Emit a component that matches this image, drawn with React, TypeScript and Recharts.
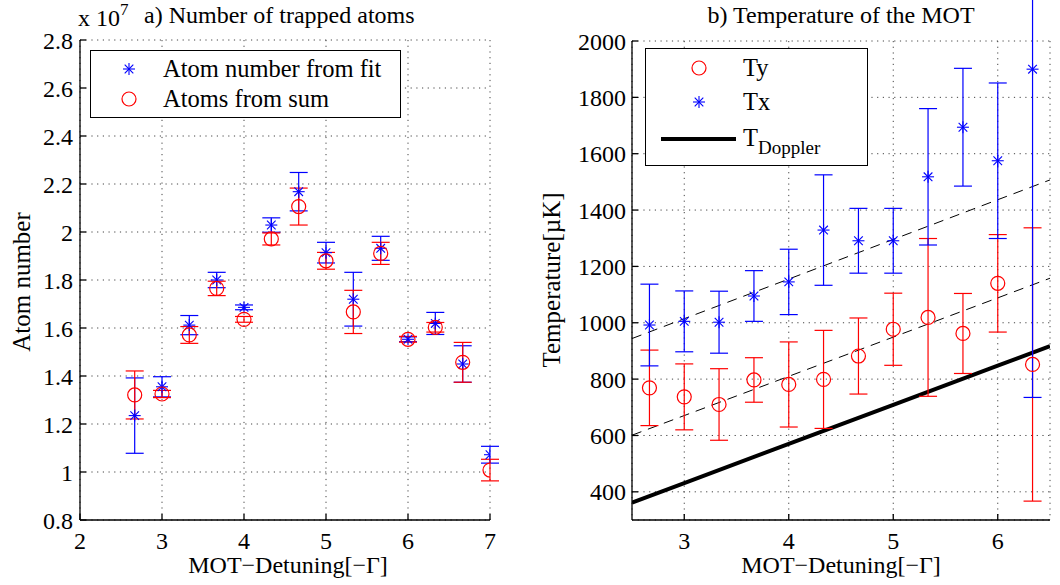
import React from 'react';
import { ComposedChart, Scatter, Line, XAxis, YAxis, CartesianGrid, ErrorBar } from 'recharts';

// a) atom numbers, units of 1e7
const detuningA = [2.667, 3, 3.333, 3.667, 4, 4.333, 4.667, 5, 5.333, 5.667, 6, 6.333, 6.667, 7];
const fitAtoms = [1.235, 1.355, 1.612, 1.8, 1.686, 2.029, 2.168, 1.914, 1.72, 1.932, 1.553, 1.619, 1.45, 1.072];
const fitErr = [0.157, 0.042, 0.04, 0.032, 0.01, 0.03, 0.08, 0.043, 0.112, 0.05, 0.01, 0.046, 0.076, 0.035];
const sumAtoms = [1.321, 1.325, 1.571, 1.765, 1.636, 1.971, 2.106, 1.88, 1.667, 1.911, 1.553, 1.603, 1.457, 1.008];
const sumErr = [0.1, 0.015, 0.035, 0.03, 0.012, 0.025, 0.077, 0.035, 0.09, 0.046, 0.012, 0.02, 0.083, 0.045];
const ticksAX = [2, 3, 4, 5, 6, 7];
const ticksAY = [0.8, 1, 1.2, 1.4, 1.6, 1.8, 2, 2.2, 2.4, 2.6, 2.8];

// b) temperatures in µK
const detuningB = [2.667, 3, 3.333, 3.667, 4, 4.333, 4.667, 5, 5.333, 5.667, 6, 6.333];
const tx = [992, 1005, 1002, 1095, 1145, 1329, 1291, 1291, 1518, 1694, 1575, 1900];
const txErr = [145, 108, 110, 90, 116, 196, 115, 115, 242, 209, 276, 1165];
const ty = [769, 737, 710, 797, 781, 799, 882, 977, 1019, 962, 1140, 852];
const tyErr = [134, 117, 127, 79, 151, 174, 135, 128, 280, 142, 173, 485];
const dopX = [2.5, 3, 4, 5, 6, 6.5];
const dopT = [362, 431, 570, 709, 848, 917];
const fitX = [2.5, 6.5];
const fitTx = [944, 1507];
const fitTy = [601, 1158];
const ticksBX = [3, 4, 5, 6];
const ticksBY = [400, 600, 800, 1000, 1200, 1400, 1600, 1800, 2000];

const FONT = '"Liberation Serif", "Times New Roman", serif';
const BLUE = '#0000ff';
const RED = '#ff0000';

const pts = (xs: number[], ys: number[], es?: number[]) =>
  xs.map((x, i) => ({ x, y: ys[i], e: es ? es[i] : 0 }));

function Star(p: any) {
  const { cx, cy } = p;
  if (cx == null || cy == null) return null;
  const r = 6;
  const d = r * 0.72;
  return (
    <g stroke={BLUE} strokeWidth={1.1}>
      <line x1={cx - r} y1={cy} x2={cx + r} y2={cy} />
      <line x1={cx} y1={cy - r} x2={cx} y2={cy + r} />
      <line x1={cx - d} y1={cy - d} x2={cx + d} y2={cy + d} />
      <line x1={cx - d} y1={cy + d} x2={cx + d} y2={cy - d} />
    </g>
  );
}

function Ring(p: any) {
  const { cx, cy } = p;
  if (cx == null || cy == null) return null;
  return <circle cx={cx} cy={cy} r={7} fill="none" stroke={RED} strokeWidth={1.2} />;
}

const tickStyle = { fontSize: 24, fill: '#000', fontFamily: FONT };
const noTick = () => <g />;

function Axes({ xd, yd, xt, yt, yfmt, yw, ym }: any) {
  return [
    <XAxis key="xb" dataKey="x" type="number" domain={xd} ticks={xt} allowDataOverflow height={30}
      tick={tickStyle} tickSize={-6} tickMargin={18} stroke="#000" strokeWidth={1.3} />,
    <XAxis key="xt" xAxisId="t" orientation="top" type="number" domain={xd} ticks={xt} allowDataOverflow height={0}
      tick={noTick} tickSize={-6} stroke="#000" strokeWidth={1.3} />,
    <YAxis key="yl" dataKey="y" type="number" domain={yd} ticks={yt} allowDataOverflow width={yw}
      tick={tickStyle} tickSize={-6} tickMargin={ym} stroke="#000" strokeWidth={1.3} tickFormatter={yfmt} />,
    <YAxis key="yr" yAxisId="r" orientation="right" type="number" domain={yd} ticks={yt} allowDataOverflow width={0}
      tick={noTick} tickSize={-6} stroke="#000" strokeWidth={1.3} />,
  ];
}

const txt = (extra: React.CSSProperties): React.CSSProperties => ({
  position: 'absolute', fontFamily: FONT, color: '#000', whiteSpace: 'nowrap', lineHeight: 1, ...extra,
});

function StarIcon() {
  return <svg width={16} height={16} style={{ overflow: 'visible' }}><Star cx={8} cy={8} /></svg>;
}
function RingIcon() {
  return <svg width={16} height={16} style={{ overflow: 'visible' }}><Ring cx={8} cy={8} /></svg>;
}

export default function App() {
  return (
    <div style={{ position: 'absolute', left: 0, top: 0, width: 1060, height: 585, background: '#fff', fontFamily: FONT }}>
      {/* panel a */}
      <div style={{ position: 'absolute', left: 0, top: 0 }}>
        <ComposedChart width={530} height={585} margin={{ top: 40, right: 40, left: 20, bottom: 35 }}>
          <CartesianGrid stroke="#444" strokeDasharray="1.2 4.5" />
          {Axes({ xd: [2, 7], yd: [0.8, 2.8], xt: ticksAX, yt: ticksAY, yw: 60, ym: 13, yfmt: (v: number) => String(Number(v.toFixed(1))) })}
          <Scatter data={pts(detuningA, fitAtoms, fitErr)} shape={<Star />} isAnimationActive={false}>
            <ErrorBar dataKey="e" direction="y" width={9} stroke={BLUE} strokeWidth={1.2} />
          </Scatter>
          <Scatter data={pts(detuningA, sumAtoms, sumErr)} shape={<Ring />} isAnimationActive={false}>
            <ErrorBar dataKey="e" direction="y" width={9} stroke={RED} strokeWidth={1.2} />
          </Scatter>
        </ComposedChart>
      </div>
      <div style={txt({ left: 78, top: 6, fontSize: 24 })}>x 10<sup style={{ fontSize: 17, verticalAlign: 'top', position: 'relative', top: -5 }}>7</sup></div>
      <div style={txt({ left: 144, top: 3, fontSize: 24 })}>a) Number of trapped atoms</div>
      <div style={txt({ left: 288, top: 553, fontSize: 24, transform: 'translateX(-50%)' })}>MOT−Detuning[−Γ]</div>
      <div style={txt({ left: 21, top: 282, fontSize: 25, transform: 'translate(-50%, -50%) rotate(-90deg)' })}>Atom number</div>
      <div style={{ position: 'absolute', left: 90, top: 50, width: 309, height: 66, border: '1.5px solid #000', background: '#fff' }}>
        <div style={{ position: 'absolute', left: 30, top: 10 }}><StarIcon /></div>
        <div style={txt({ left: 72, top: 6, fontSize: 24.5 })}>Atom number from fit</div>
        <div style={{ position: 'absolute', left: 30, top: 40 }}><RingIcon /></div>
        <div style={txt({ left: 72, top: 36, fontSize: 24.5 })}>Atoms from sum</div>
      </div>

      {/* panel b */}
      <div style={{ position: 'absolute', left: 530, top: 0 }}>
        <ComposedChart width={530} height={585} margin={{ top: 41, right: 10, left: 40, bottom: 35 }}>
          <CartesianGrid stroke="#444" strokeDasharray="1.2 4.5" />
          {Axes({ xd: [2.5, 6.5], yd: [300, 2000], xt: ticksBX, yt: ticksBY, yw: 62, ym: 12 })}
          <Line data={pts(fitX, fitTx)} dataKey="y" stroke="#000" strokeWidth={1} strokeDasharray="10 7" dot={false} isAnimationActive={false} />
          <Line data={pts(fitX, fitTy)} dataKey="y" stroke="#000" strokeWidth={1} strokeDasharray="10 7" dot={false} isAnimationActive={false} />
          <Line data={pts(dopX, dopT)} dataKey="y" stroke="#000" strokeWidth={4} dot={false} isAnimationActive={false} />
          <Scatter data={pts(detuningB, ty, tyErr)} shape={<Ring />} isAnimationActive={false}>
            <ErrorBar dataKey="e" direction="y" width={9} stroke={RED} strokeWidth={1.2} />
          </Scatter>
          <Scatter data={pts(detuningB, tx, txErr)} shape={<Star />} isAnimationActive={false}>
            <ErrorBar dataKey="e" direction="y" width={9} stroke={BLUE} strokeWidth={1.2} />
          </Scatter>
        </ComposedChart>
      </div>
      <div style={txt({ left: 841, top: 3, fontSize: 24, transform: 'translateX(-50%)' })}>b) Temperature of the MOT</div>
      <div style={txt({ left: 841, top: 553, fontSize: 24, transform: 'translateX(-50%)' })}>MOT−Detuning[−Γ]</div>
      <div style={txt({ left: 551, top: 280, fontSize: 25, transform: 'translate(-50%, -50%) rotate(-90deg)' })}>Temperature[µK]</div>
      <div style={{ position: 'absolute', left: 645, top: 48, width: 221, height: 116, border: '1.5px solid #000', background: '#fff' }}>
        <div style={{ position: 'absolute', left: 45, top: 11 }}><RingIcon /></div>
        <div style={txt({ left: 97, top: 7, fontSize: 24.5 })}>Ty</div>
        <div style={{ position: 'absolute', left: 45, top: 45 }}><StarIcon /></div>
        <div style={txt({ left: 97, top: 41, fontSize: 24.5 })}>Tx</div>
        <div style={{ position: 'absolute', left: 15, top: 88, width: 75, height: 4, background: '#000' }} />
        <div style={txt({ left: 97, top: 77, fontSize: 24.5 })}>T<sub style={{ fontSize: 19, position: 'relative', top: 8, verticalAlign: 'baseline' }}>Doppler</sub></div>
      </div>
    </div>
  );
}
